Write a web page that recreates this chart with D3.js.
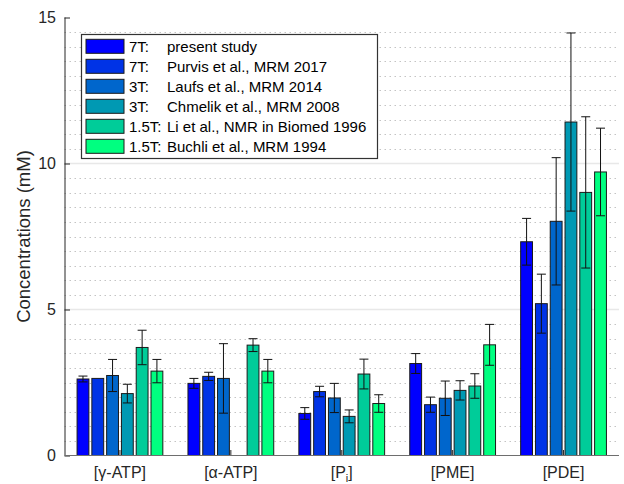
<!DOCTYPE html>
<html>
<head>
<meta charset="utf-8">
<script src="https://cdn.jsdelivr.net/npm/d3@7"></script>
<style>
  body { margin: 0; background: #fff; }
  svg { font-family: "Liberation Sans", Arial, Helvetica, sans-serif; }
</style>
</head>
<body>
<svg width="624" height="484"></svg>
<script>
// metabolites on the x axis
var categories = ["γ-ATP", "α-ATP", "Pi", "PME", "PDE"];

// studies (legend rows)
var fieldStrengths = ["7T:", "7T:", "3T:", "3T:", "1.5T:", "1.5T:"];
var studies = ["present study", "Purvis et al., MRM 2017", "Laufs et al., MRM 2014",
               "Chmelik et al., MRM 2008", "Li et al., NMR in Biomed 1996", "Buchli et al., MRM 1994"];
var colors = ["#0000ff", "#0033e6", "#0066cc", "#0099b3", "#00cc99", "#00ff80"];

// mean concentrations (mM), one array per study, in category order
var presentStudy = [2.62, 2.47, 1.44, 3.15, 7.32];
var purvis       = [2.64, 2.71, 2.19, 1.74, 5.20];
var laufs        = [2.74, 2.64, 1.97, 1.96, 8.02];
var chmelik      = [2.12, null, 1.34, 2.23, 11.42];
var li           = [3.70, 3.78, 2.79, 2.38, 9.01];
var buchli       = [2.89, 2.89, 1.78, 3.79, 9.71];

// standard deviations (mM)
var presentStudySD = [0.10, 0.17, 0.20, 0.34, 0.80];
var purvisSD       = [null, 0.14, 0.18, 0.26, 1.01];
var laufsSD        = [0.55, 1.19, 0.50, 0.59, 2.18];
var chmelikSD      = [0.32, null, 0.22, 0.33, 3.05];
var liSD           = [0.59, 0.22, 0.51, 0.42, 2.59];
var buchliSD       = [0.40, 0.40, 0.30, 0.70, 1.50];

var yTicks = [0, 5, 10, 15];

var means = [presentStudy, purvis, laufs, chmelik, li, buchli];
var sds = [presentStudySD, purvisSD, laufsSD, chmelikSD, liSD, buchliSD];

var svg = d3.select("svg");

// axes geometry
var x = d3.scaleLinear().domain([0.5, 5.5]).range([64.5, 619]);
var y = d3.scaleLinear().domain([0, 15]).range([455.5, 17.5]);

var nBars = studies.length;
var groupWidth = 0.8;
var step = groupWidth / nBars;
var barW = x(step * 0.8) - x(0);

// flatten to bar records
var bars = [];
means.forEach(function (series, j) {
  series.forEach(function (v, i) {
    if (v === null) return;
    bars.push({
      study: j,
      cat: i,
      value: v,
      sd: sds[j][i],
      cx: x(i + 1 + (j - (nBars - 1) / 2) * step)
    });
  });
});

// minor grid (dotted, every 0.5)
var minor = d3.range(0.5, 15, 0.5).filter(function (d) { return d % 5 !== 0; });
svg.append("g")
  .selectAll("line")
  .data(minor)
  .enter()
  .append("line")
  .attr("x1", x.range()[0])
  .attr("x2", x.range()[1])
  .attr("y1", function (d) { return Math.round(y(d)) + 0.5; })
  .attr("y2", function (d) { return Math.round(y(d)) + 0.5; })
  .attr("stroke", "#c4c4c4")
  .attr("stroke-dasharray", "1.5,3.5");

// major grid
svg.append("g")
  .selectAll("line")
  .data([5, 10])
  .enter()
  .append("line")
  .attr("x1", x.range()[0])
  .attr("x2", x.range()[1])
  .attr("y1", function (d) { return y(d); })
  .attr("y2", function (d) { return y(d); })
  .attr("stroke", "#e8e8e8")
  .attr("stroke-width", 1.5);

// x ticks (inside, pointing up)
svg.append("g")
  .selectAll("line")
  .data(d3.range(1, categories.length + 1))
  .enter()
  .append("line")
  .attr("x1", function (d) { return x(d); })
  .attr("x2", function (d) { return x(d); })
  .attr("y1", y(0))
  .attr("y2", y(0) - 5.5)
  .attr("stroke", "#262626");

// bars
svg.append("g")
  .selectAll("rect")
  .data(bars)
  .enter()
  .append("rect")
  .attr("x", function (d) { return d.cx - barW / 2; })
  .attr("width", barW)
  .attr("y", function (d) { return y(d.value); })
  .attr("height", function (d) { return y(0) - y(d.value); })
  .attr("fill", function (d) { return colors[d.study]; })
  .attr("stroke", "#1a1a1a")
  .attr("stroke-width", 1);

// error bars
var eb = svg.append("g")
  .selectAll("g")
  .data(bars.filter(function (d) { return d.sd !== null; }))
  .enter()
  .append("g")
  .attr("stroke", "#111")
  .attr("stroke-width", 1);

eb.append("line")
  .attr("x1", function (d) { return d.cx; })
  .attr("x2", function (d) { return d.cx; })
  .attr("y1", function (d) { return y(d.value - d.sd); })
  .attr("y2", function (d) { return y(d.value + d.sd); });
eb.append("line")
  .attr("x1", function (d) { return d.cx - 4.5; })
  .attr("x2", function (d) { return d.cx + 4.5; })
  .attr("y1", function (d) { return y(d.value + d.sd); })
  .attr("y2", function (d) { return y(d.value + d.sd); });
eb.append("line")
  .attr("x1", function (d) { return d.cx - 4.5; })
  .attr("x2", function (d) { return d.cx + 4.5; })
  .attr("y1", function (d) { return y(d.value - d.sd); })
  .attr("y2", function (d) { return y(d.value - d.sd); });

// y axis
var yAxis = svg.append("g")
  .attr("transform", "translate(" + x.range()[0] + ",0)")
  .call(d3.axisRight(y).tickValues(yTicks).tickSize(5.5).tickFormat(""));
yAxis.select(".domain").attr("stroke", "#262626").attr("d", "M0.5," + y(15) + "V" + y(0));
yAxis.selectAll(".tick line").attr("stroke", "#262626");

svg.append("g")
  .selectAll("text")
  .data(yTicks)
  .enter()
  .append("text")
  .attr("x", 56)
  .attr("y", function (d) { return y(d); })
  .attr("dy", "0.36em")
  .attr("text-anchor", "end")
  .attr("font-size", 16)
  .attr("fill", "#262626")
  .text(function (d) { return d; });

// x axis line
svg.append("line")
  .attr("x1", x.range()[0])
  .attr("x2", x.range()[1])
  .attr("y1", y(0))
  .attr("y2", y(0))
  .attr("stroke", "#6e6e6e")
  .attr("stroke-width", 1.2);

// x tick labels
var xl = svg.append("g")
  .selectAll("text")
  .data(categories)
  .enter()
  .append("text")
  .attr("x", function (d, i) { return x(i + 1); })
  .attr("y", 478)
  .attr("text-anchor", "middle")
  .attr("font-size", 16)
  .attr("fill", "#262626");
xl.each(function (d) {
  var t = d3.select(this);
  if (d === "Pi") {
    t.append("tspan").text("[P");
    t.append("tspan").attr("font-size", 11).attr("dy", 4).text("i");
    t.append("tspan").attr("dy", -4).text("]");
  } else {
    t.text("[" + d + "]");
  }
});

// y label
svg.append("text")
  .attr("transform", "translate(30," + ((y(0) + y(15)) / 2) + ") rotate(-90)")
  .attr("text-anchor", "middle")
  .attr("font-size", 18.5)
  .attr("fill", "#262626")
  .text("Concentrations (mM)");

// legend
var legend = svg.append("g");
legend.append("rect")
  .attr("x", 81.5)
  .attr("y", 34.5)
  .attr("width", 296)
  .attr("height", 124)
  .attr("fill", "#fff")
  .attr("stroke", "#333")
  .attr("stroke-width", 1.2);

var rows = legend.selectAll("g.row")
  .data(studies)
  .enter()
  .append("g")
  .attr("class", "row")
  .attr("transform", function (d, i) { return "translate(0," + (46.3 + i * 20) + ")"; });

rows.append("rect")
  .attr("x", 86)
  .attr("y", -7)
  .attr("width", 38)
  .attr("height", 14)
  .attr("fill", function (d, i) { return colors[i]; })
  .attr("stroke", "#1a1a1a");

rows.append("text")
  .attr("x", 129)
  .attr("dy", "0.36em")
  .attr("font-size", 15)
  .attr("fill", "#000")
  .text(function (d, i) { return fieldStrengths[i]; });

rows.append("text")
  .attr("x", 167)
  .attr("dy", "0.36em")
  .attr("font-size", 15)
  .attr("fill", "#000")
  .text(function (d) { return d; });
</script>
</body>
</html>
